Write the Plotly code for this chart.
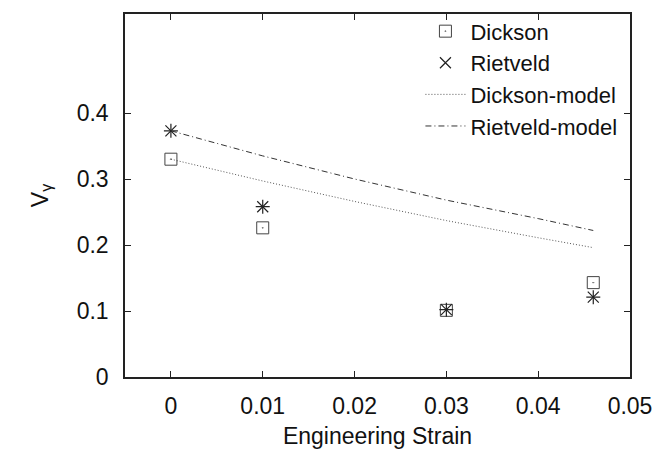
import plotly.graph_objects as go

# ---- data ----
strain_pts = [0.0, 0.01, 0.03, 0.046]
dickson = [0.330, 0.226, 0.101, 0.143]
rietveld = [0.373, 0.258, 0.102, 0.121]

strain_model = [0.0, 0.01, 0.02, 0.03, 0.04, 0.046]
dickson_model = [0.330, 0.297, 0.266, 0.237, 0.211, 0.196]
rietveld_model = [0.373, 0.335, 0.300, 0.268, 0.240, 0.222]

x_ticks = [0, 0.01, 0.02, 0.03, 0.04, 0.05]
x_ticktext = ["0", "0.01", "0.02", "0.03", "0.04", "0.05"]
y_ticks = [0, 0.1, 0.2, 0.3, 0.4]
y_ticktext = ["0", "0.1", "0.2", "0.3", "0.4"]

FONT = "Liberation Sans, Arial, sans-serif"
INK = "#222222"

fig = go.Figure()

fig.add_trace(go.Scatter(
    x=strain_pts, y=dickson, mode="markers", name="Dickson",
    marker=dict(symbol="square-open-dot", size=12, color="#444444",
                line=dict(width=1, color="#444444")),
))
fig.add_trace(go.Scatter(
    x=strain_pts, y=rietveld, mode="markers", name="Rietveld", legendgroup="r",
    marker=dict(symbol="x-thin-open", size=11, color="#222222",
                line=dict(width=1.2, color="#222222")),
))
fig.add_trace(go.Scatter(
    x=strain_pts, y=rietveld, mode="markers", name="Rietveld", legendgroup="r",
    showlegend=False,
    marker=dict(symbol="cross-thin-open", size=10, color="#222222",
                line=dict(width=1.2, color="#222222")),
))
fig.add_trace(go.Scatter(
    x=strain_model, y=dickson_model, mode="lines", name="Dickson-model",
    line=dict(color="#555555", width=1, dash="1px,2px"),
))
fig.add_trace(go.Scatter(
    x=strain_model, y=rietveld_model, mode="lines", name="Rietveld-model",
    line=dict(color="#333333", width=1, dash="6px,3px,1px,3px"),
))

axis_common = dict(
    showline=True, linecolor=INK, linewidth=1.5, mirror="ticks",
    ticks="inside", ticklen=6, tickcolor=INK, tickwidth=1,
    showgrid=False, zeroline=False,
    tickfont=dict(family=FONT, size=23, color="#111111"),
)

# page body has an 8px default margin: shrink the figure to compensate
fig.update_layout(
    width=652, height=445,
    margin=dict(l=117, r=30, t=2, b=76),
    paper_bgcolor="white", plot_bgcolor="white",
    font=dict(family=FONT, size=23, color="#111111"),
    xaxis=dict(
        range=[-0.005, 0.05], tickvals=x_ticks, ticktext=x_ticktext,
        title=dict(text="Engineering Strain", font=dict(family=FONT, size=23), standoff=10),
        ticklabelstandoff=8,
        **axis_common,
    ),
    yaxis=dict(
        range=[0, 0.55], tickvals=y_ticks, ticktext=y_ticktext,
        title=dict(text="V<sub>γ</sub>", font=dict(family=FONT, size=23), standoff=22),
        ticklabelstandoff=10,
        **axis_common,
    ),
    legend=dict(
        x=0.985, xanchor="right", y=1.01, yanchor="top",
        bgcolor="rgba(0,0,0,0)", font=dict(family=FONT, size=22),
        tracegroupgap=0, itemwidth=40,
    ),
    showlegend=True,
)

fig.write_html("out.html")
